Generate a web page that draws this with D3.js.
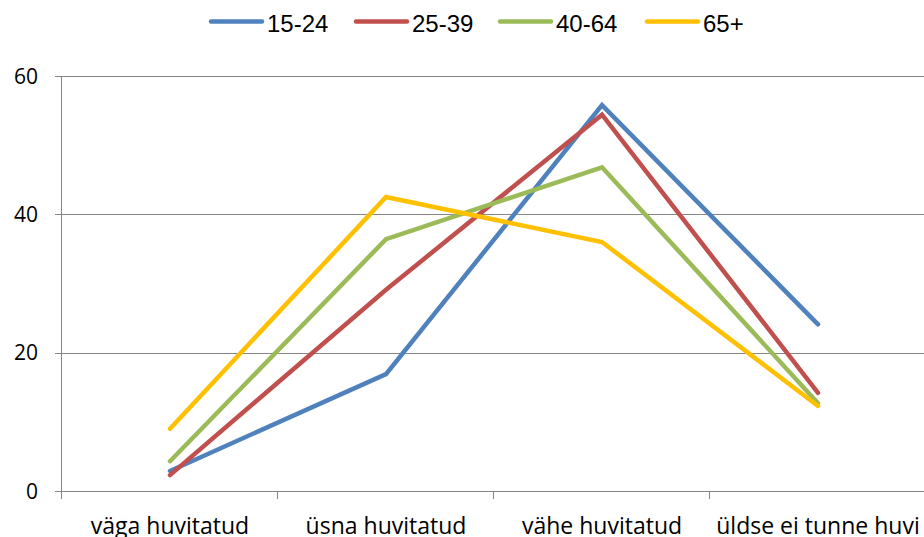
<!DOCTYPE html>
<html>
<head>
<meta charset="utf-8">
<script src="https://cdn.jsdelivr.net/npm/d3@7"></script>
<style>
  html, body { margin:0; padding:0; background:#fff; overflow:hidden; }
  svg { display:block; }
</style>
</head>
<body>
<div id="chart"></div>
<script>
// Categories and series
const categories = ['väga huvitatud', 'üsna huvitatud', 'vähe huvitatud', 'üldse ei tunne huvi'];
const seriesNames = ['15-24', '25-39', '40-64', '65+'];
const seriesColors = ['#4F81BD', '#C0504D', '#9BBB59', '#FFC000'];
const values1524 = [2.9, 16.9, 55.8, 24.1];
const values2539 = [2.3, 29.1, 54.4, 14.2];
const values4064 = [4.3, 36.4, 46.8, 12.7];
const values65 = [9.0, 42.5, 36.0, 12.3];
const yTicks = [0, 20, 40, 60];

const seriesValues = [values1524, values2539, values4064, values65];

const width = 924, height = 537;
const margin = { top:76, right:-2, bottom:46, left:62 };
const w = width - margin.left - margin.right;
const h = height - margin.top - margin.bottom;

const svg = d3.select('#chart').append('svg').attr('width', width).attr('height', height);
const g = svg.append('g').attr('transform', `translate(${margin.left},${margin.top})`);

const x = d3.scaleBand().domain(categories).range([0, w]);
const y = d3.scaleLinear().domain([0, 60]).range([h, 0]);

// gridlines + y ticks
g.selectAll('line.grid')
  .data(yTicks)
  .join('line')
  .attr('class', 'grid')
  .attr('x1', -7).attr('x2', w)
  .attr('y1', d => Math.round(y(d)) + 0.5).attr('y2', d => Math.round(y(d)) + 0.5)
  .attr('stroke', '#868686').attr('stroke-width', 1);

g.selectAll('text.ylab')
  .data(yTicks)
  .join('text')
  .attr('class', 'ylab')
  .attr('x', -24).attr('y', d => y(d))
  .attr('dy', '0.36em')
  .attr('text-anchor', 'end')
  .attr('font-family', "'Open Sans', sans-serif")
  .attr('font-size', 21)
  .attr('fill', '#000')
  .text(d => d);

// y axis line
g.append('line')
  .attr('x1', -0.5).attr('x2', -0.5).attr('y1', 0).attr('y2', h)
  .attr('stroke', '#868686');

// x ticks
const bounds = categories.map(c => x(c)).concat([w]);
g.selectAll('line.xtick')
  .data(bounds)
  .join('line')
  .attr('class', 'xtick')
  .attr('x1', d => Math.round(d) - 0.5).attr('x2', d => Math.round(d) - 0.5)
  .attr('y1', h).attr('y2', h + 8)
  .attr('stroke', '#868686');

g.selectAll('text.xlab')
  .data(categories)
  .join('text')
  .attr('class', 'xlab')
  .attr('x', d => x(d) + x.bandwidth() / 2)
  .attr('y', h + 43)
  .attr('text-anchor', 'middle')
  .attr('font-family', "'Open Sans', sans-serif")
  .attr('font-size', 23)
  .attr('fill', '#000')
  .text(d => d);

// lines
const line = d3.line()
  .x((d, i) => x(categories[i]) + x.bandwidth() / 2)
  .y(d => y(d));

g.selectAll('path.series')
  .data(seriesValues)
  .join('path')
  .attr('class', 'series')
  .attr('d', line)
  .attr('fill', 'none')
  .attr('stroke', (d, i) => seriesColors[i])
  .attr('stroke-width', 4.5)
  .attr('stroke-linecap', 'round')
  .attr('stroke-linejoin', 'miter');

// legend
const legendX = [211, 356, 500, 647];
const legend = svg.selectAll('g.leg')
  .data(seriesNames)
  .join('g')
  .attr('class', 'leg')
  .attr('transform', (d, i) => `translate(${legendX[i]},21.5)`);

legend.append('line')
  .attr('x1', 0).attr('x2', 51).attr('y1', 0).attr('y2', 0)
  .attr('stroke', (d, i) => seriesColors[i])
  .attr('stroke-width', 4.5)
  .attr('stroke-linecap', 'round');

legend.append('text')
  .attr('x', 56).attr('y', 1.5).attr('dy', '0.36em')
  .attr('font-family', "'Liberation Sans', Arial, sans-serif")
  .attr('font-size', 24)
  .attr('fill', '#000')
  .text(d => d);
</script>
</body>
</html>
